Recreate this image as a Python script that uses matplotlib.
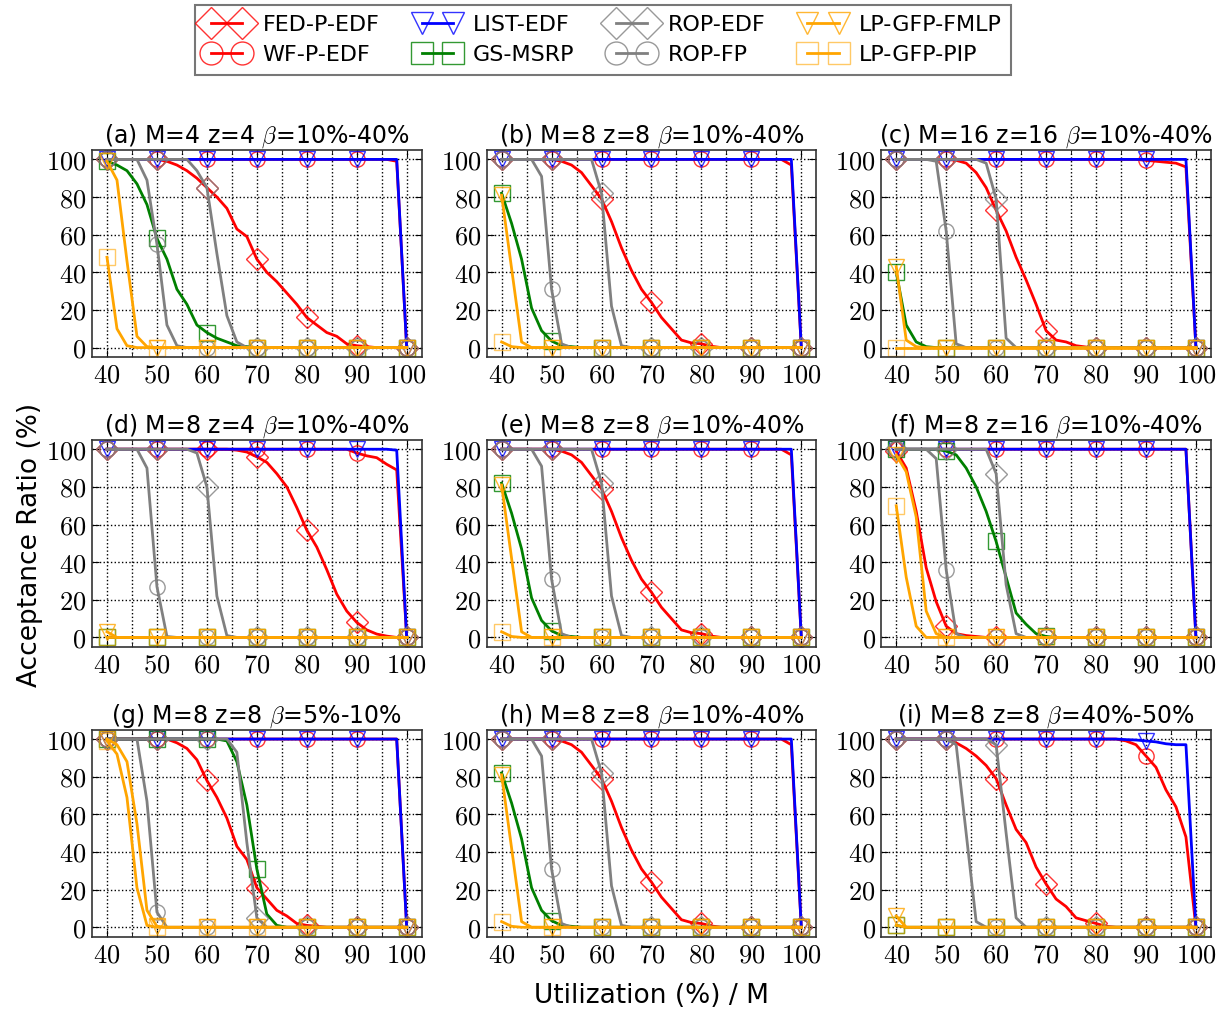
import matplotlib
matplotlib.use("Agg")
import matplotlib.pyplot as plt
from matplotlib.ticker import MultipleLocator

plt.rcParams['font.family'] = ['DejaVu Sans']
plt.rcParams['mathtext.fontset'] = 'cm'

# utilization (%) / M, sampled every 2%
util = list(range(40, 101, 2))

names = ["FED-P-EDF", "WF-P-EDF", "LIST-EDF", "GS-MSRP",
         "ROP-EDF", "ROP-FP", "LP-GFP-FMLP", "LP-GFP-PIP"]
colors = ["red", "red", "blue", "green", "grey", "grey", "orange", "orange"]
markers = ["D", "o", "v", "s", "D", "o", "v", "s"]

# (a) M=4 z=4 beta=10%-40%
fed_a = [100]*6 + [99, 97, 94, 90, 85, 80, 74, 63, 59, 47, 40, 35, 29, 23, 16, 12, 8, 6, 2, 1, 0.5, 0, 0, 0, 0]
wf_a = [100]*29 + [99, 0]
list_a = [100]*30 + [0]
gs_a = [99, 97, 94, 87, 76, 58, 47, 31, 23, 12, 8, 5, 3, 1, 0.5] + [0]*16
ropedf_a = [100]*9 + [94, 85, 50, 17, 3] + [0]*17
ropfp_a = [100]*4 + [89, 55, 12, 1] + [0]*23
fmlp_a = [99, 89, 46, 6, 0.5] + [0]*26
pip_a = [48, 10, 1] + [0]*28

# (b), (e), (h) M=8 z=8 beta=10%-40%
fed_b = [100]*6 + [99, 97, 93, 86, 79, 67, 53, 41, 31, 24, 16, 10, 4, 2.5, 2, 0.7] + [0]*9
wf_b = [100]*29 + [97, 0]
list_b = [100]*30 + [0]
gs_b = [82, 66, 47, 21, 9, 3.5, 1, 0.5] + [0]*23
ropedf_b = [100]*10 + [82, 22, 1] + [0]*18
ropfp_b = [100]*4 + [91, 31, 2] + [0]*24
fmlp_b = [81, 42, 3] + [0]*28
pip_b = [3, 0.5] + [0]*29

# (c) M=16 z=16 beta=10%-40%
fed_c = [100]*6 + [99.5, 98, 93, 85, 73, 62, 48, 36, 23, 9, 4, 3, 1, 0.3] + [0]*11
wf_c = [100]*25 + [99.5, 99, 98.5, 98, 96, 0]
list_c = [100]*30 + [0]
gs_c = [40, 12, 3, 0.5] + [0]*27
ropedf_c = [100]*9 + [98, 79, 5] + [0]*19
ropfp_c = [100]*4 + [99, 62, 2] + [0]*24
fmlp_c = [43, 4, 0.5] + [0]*28
pip_c = [0]*31

# (d) M=8 z=4 beta=10%-40%
fed_d = [100]*13 + [99.5, 98.5, 96, 93, 87, 80, 69, 57, 48, 36, 23, 14, 8, 4, 1.8, 0.7, 0, 0]
wf_d = [100]*25 + [98, 96.5, 95.5, 92, 89, 0]
list_d = [100]*29 + [99.5, 0]
gs_d = [0]*31
ropedf_d = [100]*9 + [98, 80, 22, 1] + [0]*18
ropfp_d = [100]*4 + [90, 27, 0.5] + [0]*24
fmlp_d = [3] + [0]*30
pip_d = [0]*31

# (f) M=8 z=16 beta=10%-40%
fed_f = [99, 90, 67, 37, 19, 6, 2, 1, 0.5] + [0]*22
wf_f = [100]*30 + [0]
list_f = [100]*30 + [0]
gs_f = [100]*5 + [99, 97, 90, 80, 67, 51, 32, 13, 7, 2, 0.5] + [0]*15
ropedf_f = [100]*10 + [87, 28, 2] + [0]*18
ropfp_f = [100]*4 + [95, 36, 2] + [0]*24
fmlp_f = [97, 88, 64, 14, 2] + [0]*26
pip_f = [70, 32, 6] + [0]*28

# (g) M=8 z=8 beta=5%-10%
fed_g = [100]*7 + [98, 95, 89, 78, 69, 58, 43, 36, 21, 15, 9, 6, 2, 1, 0.5] + [0]*9
wf_g = [100]*30 + [0]
list_g = [100]*30 + [0]
gs_g = [100]*12 + [99, 88, 65, 31, 7, 1] + [0]*13
ropedf_g = [100]*13 + [93, 45, 5] + [0]*15
ropfp_g = [100]*4 + [67, 8] + [0]*25
fmlp_g = [100, 97, 88, 55, 9, 0.5] + [0]*25
pip_g = [99, 92, 69, 21, 1] + [0]*26

# (i) M=8 z=8 beta=40%-50%
fed_i = [100]*6 + [98, 95, 91, 86, 79, 65, 52, 45, 32, 23, 15, 11, 5, 3.5, 2, 0.5] + [0]*9
wf_i = [100]*23 + [99, 97, 91, 85, 73, 64, 48, 0]
list_i = [100]*23 + [99.7, 99.5, 99, 98.5, 97.5, 97, 97, 0]
gs_i = [1] + [0]*30
ropedf_i = [100]*10 + [97, 50, 5] + [0]*18
ropfp_i = [100]*6 + [97, 50, 3] + [0]*22
fmlp_i = [6] + [0]*30
pip_i = [1] + [0]*30

panels = [
    ("(a) M=4 z=4", "10%-40%", [fed_a, wf_a, list_a, gs_a, ropedf_a, ropfp_a, fmlp_a, pip_a]),
    ("(b) M=8 z=8", "10%-40%", [fed_b, wf_b, list_b, gs_b, ropedf_b, ropfp_b, fmlp_b, pip_b]),
    ("(c) M=16 z=16", "10%-40%", [fed_c, wf_c, list_c, gs_c, ropedf_c, ropfp_c, fmlp_c, pip_c]),
    ("(d) M=8 z=4", "10%-40%", [fed_d, wf_d, list_d, gs_d, ropedf_d, ropfp_d, fmlp_d, pip_d]),
    ("(e) M=8 z=8", "10%-40%", [fed_b, wf_b, list_b, gs_b, ropedf_b, ropfp_b, fmlp_b, pip_b]),
    ("(f) M=8 z=16", "10%-40%", [fed_f, wf_f, list_f, gs_f, ropedf_f, ropfp_f, fmlp_f, pip_f]),
    ("(g) M=8 z=8", "5%-10%", [fed_g, wf_g, list_g, gs_g, ropedf_g, ropfp_g, fmlp_g, pip_g]),
    ("(h) M=8 z=8", "10%-40%", [fed_b, wf_b, list_b, gs_b, ropedf_b, ropfp_b, fmlp_b, pip_b]),
    ("(i) M=8 z=8", "40%-50%", [fed_i, wf_i, list_i, gs_i, ropedf_i, ropfp_i, fmlp_i, pip_i]),
]

xticks = [40, 50, 60, 70, 80, 90, 100]
yticks = [0, 20, 40, 60, 80, 100]

fig, axes = plt.subplots(3, 3, figsize=(12.17, 10.10), dpi=100)
fig.subplots_adjust(left=0.0756, right=0.995, bottom=0.0726, top=0.8515,
                    wspace=0.197, hspace=0.40)

handles = []
for ax, (lbl, rng, series) in zip(axes.flat, panels):
    for k, ys in enumerate(series):
        mec = matplotlib.colors.to_rgba(colors[k], 0.6 if k == 7 else 0.8)
        h, = ax.plot(util, ys, color=colors[k], lw=2, marker=markers[k],
                     markevery=5, ms=11, mfc='none', mec=mec, mew=1,
                     label=names[k])
        if len(handles) < 8:
            handles.append(h)
    ax.set_xlim(37, 103)
    ax.set_ylim(-5, 105)
    ax.set_xticks(xticks, labels=[f"${t}$" for t in xticks])
    ax.set_yticks(yticks, labels=[f"${t}$" for t in yticks])
    ax.xaxis.set_minor_locator(MultipleLocator(5))
    ax.tick_params(which='both', direction='in', top=True, right=True,
                   labelsize=19, pad=4)
    ax.tick_params(which='major', length=5)
    ax.tick_params(which='minor', length=3)
    ax.grid(True, which='both', axis='x', color='black', ls=':', lw=1)
    ax.grid(True, which='major', axis='y', color='black', ls=':', lw=1)
    for sp in ax.spines.values():
        sp.set_linewidth(1.2)
        sp.set_color('#333333')
    ax.set_title(lbl + " $\\beta$=" + rng, fontsize=17, pad=5)

leg = fig.legend(handles=handles, loc='upper center', bbox_to_anchor=(0.4955, 0.997),
                 ncol=4, numpoints=2, markerscale=1.5, fontsize=16, handlelength=2.0,
                 columnspacing=1.6, fancybox=False, edgecolor='#555555',
                 borderpad=0.45, labelspacing=0.45, handletextpad=0.6,
                 borderaxespad=0.1)
leg.get_frame().set_linewidth(1.5)

fig.text(0.025, 0.46, "Acceptance Ratio (%)", rotation=90, fontsize=19,
         ha='center', va='center')
fig.text(0.535, 0.014, "Utilization (%) / M", fontsize=19, ha='center', va='center')

fig.savefig("out.png", dpi=100)
